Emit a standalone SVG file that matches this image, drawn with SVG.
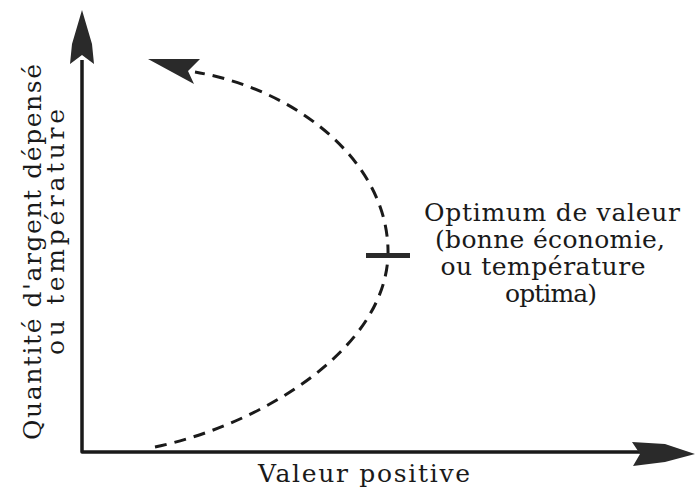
<svg xmlns="http://www.w3.org/2000/svg" width="696" height="489" viewBox="0 0 696 489">
<style>
.t{font-family:"DejaVu Serif","Liberation Serif",serif;font-size:25px;fill:#1a1a1a}
.ax{fill:none;stroke:#1a1a1a;stroke-width:3.5;stroke-linejoin:round}
.cv{fill:none;stroke:#1a1a1a;stroke-width:3;stroke-dasharray:12 8}
.ah{fill:#2a2a2a}
</style>
<rect width="696" height="489" fill="#fff"/>
<g id="axes">
<path class="ax" d="M82,60 L82,452 L640,452"/>
<path class="ah" d="M82,10 L92,44 L94,64 L82,55 L70,64 L72,44 Z"/>
<path class="ah" d="M695,454 L665,444 L632,442 L640,454 L633,466 L665,462 Z"/>
</g>
<g id="connectors">
<path class="cv" d="M155,447 C260,425 385,350 388,255 C390,165 300,90 195,72"/>
<path class="ah" d="M148,59 L200,59 L188,71 L194,84 Z"/>
</g>
<g id="optimum">
<rect x="366" y="253" width="44" height="5" fill="#2a2a2a"/>
<text class="t" x="552" y="221" text-anchor="middle" textLength="256" lengthAdjust="spacing">Optimum de valeur</text>
<text class="t" x="550" y="248" text-anchor="middle" textLength="230" lengthAdjust="spacing">(bonne économie,</text>
<text class="t" x="543" y="275" text-anchor="middle" textLength="205" lengthAdjust="spacing">ou température</text>
<text class="t" x="551" y="302" text-anchor="middle" textLength="92" lengthAdjust="spacing">optima)</text>
</g>
<g id="ylabel">
<text class="t" transform="translate(41,252) rotate(-90)" text-anchor="middle" textLength="376" lengthAdjust="spacing">Quantité d'argent dépensé</text>
<text class="t" transform="translate(64,232) rotate(-90)" text-anchor="middle" textLength="246" lengthAdjust="spacing">ou température</text>
</g>
<g id="xlabel">
<text class="t" x="364" y="482" text-anchor="middle" textLength="212" lengthAdjust="spacing">Valeur positive</text>
</g>
</svg>
